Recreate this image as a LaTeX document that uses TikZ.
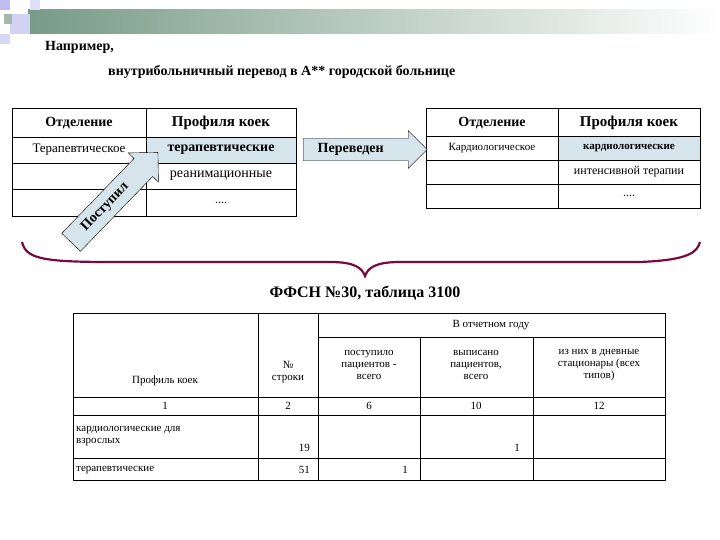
\documentclass[tikz,border=0pt]{standalone}
\usepackage{fontspec}
\setmainfont{Liberation Serif}
\usetikzlibrary{shapes.arrows}
\definecolor{cellblue}{RGB}{214,228,236}
\definecolor{brace}{RGB}{120,10,60}
\definecolor{barg}{RGB}{120,155,135}
\definecolor{lav}{RGB}{190,190,240}
\begin{document}
\begin{tikzpicture}[x=1pt,y=-1pt,
  cell/.style={draw,line width=0.8pt},
  txt/.style={font=\fontsize{12}{13}\selectfont,inner sep=0pt},
  hd/.style={font=\fontsize{14}{15}\selectfont\bfseries,inner sep=0pt},
  sm/.style={font=\fontsize{11}{12}\selectfont,inner sep=0pt,align=center}]
\useasboundingbox (0,0) rectangle (720,540);
% decoration
\shade[left color=barg,right color=white] (28,10) rectangle (720,34);
\fill[lav] (0,0) rectangle (10,10);
\fill[lav!70] (10,14) rectangle (30,34);
\fill[lav!60] (0,34) rectangle (10,44);
\fill[barg!70] (4,14) rectangle (12,24);
\fill[lav!50] (30,0) rectangle (40,10);
\node[anchor=west,font=\fontsize{14}{15}\selectfont\bfseries,inner sep=0pt] (t1) at (45,47) {Например,};
\node[anchor=west,font=\fontsize{14}{15}\selectfont\bfseries,inner sep=0pt] (t2) at (108,72) {внутрибольничный перевод в А** городской больнице};
% left table
\fill[cellblue] (146,137) rectangle (296,163);
\draw[cell] (12,108) rectangle (296,216);
\foreach \y in {137,163,189} \draw[cell] (12,\y) -- (296,\y);
\draw[cell] (146,108) -- (146,216);
\node[hd] (l1) at (79,123) {Отделение};
\node[hd,font=\fontsize{15}{16}\selectfont\bfseries] (l2) at (221,123) {Профиля коек};
\node[txt,font=\fontsize{13}{14}\selectfont] (l3) at (79,150) {Терапевтическое};
\node[txt,font=\fontsize{14}{15}\selectfont\bfseries] (l4) at (221,150) {терапевтические};
\node[txt,font=\fontsize{14}{15}\selectfont] (l5) at (221,176) {реанимационные};
\node[txt] (l6) at (221,203) {....};
% right table
\fill[cellblue] (558,136) rectangle (700,160);
\draw[cell] (426,108) rectangle (700,208);
\foreach \y in {136,160,184} \draw[cell] (426,\y) -- (700,\y);
\draw[cell] (558,108) -- (558,208);
\node[hd] (r1) at (492,123) {Отделение};
\node[hd,font=\fontsize{15}{16}\selectfont\bfseries] (r2) at (629,123) {Профиля коек};
\node[txt,font=\fontsize{11}{12}\selectfont] (r3) at (492,148) {Кардиологическое};
\node[txt,font=\fontsize{11}{12}\selectfont\bfseries] (r4) at (629,148) {кардиологические};
\node[txt,font=\fontsize{12}{13}\selectfont] (r5) at (629,172) {интенсивной терапии};
\node[txt] (r6) at (629,196) {....};
% arrow Переведен
\node[single arrow,draw,fill=cellblue,minimum height=124pt,minimum width=38pt,
  single arrow head extend=6pt,inner sep=2pt,anchor=west,
  text width=100pt,font=\fontsize{14}{15}\selectfont\bfseries] (pa) at (303,149.5) {\hspace*{8pt}Переведен};
% arrow Поступил
\node[single arrow,draw,fill=cellblue,minimum height=125pt,minimum width=42pt,
  single arrow head extend=7pt,inner sep=5pt,rotate=46,
  font=\fontsize{14}{15}\selectfont\bfseries] (pb) at (110,202) {Поступил\hspace*{14pt}};
% brace
\draw[brace,line width=2.2pt] (22,242) .. controls (26,258) and (40,262) .. (110,262)
  -- (330,262) .. controls (355,262) and (362,268) .. (365,276)
  .. controls (368,268) and (375,262) .. (400,262) -- (640,262)
  .. controls (690,260) and (697,252) .. (700,242);
\node[hd,font=\fontsize{16}{17}\selectfont\bfseries] (ff) at (365,293) {ФФСН №30, таблица 3100};
% bottom table
\draw (73,313) rectangle (665,480);
\draw (318,337) -- (665,337);
\foreach \y in {397,415,458} \draw (73,\y) -- (665,\y);
\draw (258,313) -- (258,480);
\draw (318,313) -- (318,480);
\draw (420,337) -- (420,480);
\draw (533,337) -- (533,480);
\node[sm] (b0) at (491,325) {В отчетном году};
\node[sm] (b1) at (165,381) {Профиль коек};
\node[sm] (b2) at (288,372) {№\\строки};
\node[sm] (b3) at (369,365) {поступило\\пациентов -\\всего};
\node[sm] (b4) at (476,365) {выписано\\пациентов,\\всего};
\node[sm] (b5) at (599,365) {из них в дневные\\стационары (всех\\типов)};
\node[sm] (n1) at (165,406) {1};
\node[sm] (n2) at (288,406) {2};
\node[sm] (n3) at (369,406) {6};
\node[sm] (n4) at (476,406) {10};
\node[sm] (n5) at (599,406) {12};
\node[sm,anchor=west,align=left] (c1) at (76,436) {кардиологические для\\взрослых};
\node[sm,anchor=east] (c2) at (310,448) {19};
\node[sm,anchor=east] (c3) at (520,448) {1};
\node[sm,anchor=west] (d1) at (76,470) {терапевтические};
\node[sm,anchor=east] (d2) at (310,470) {51};
\node[sm,anchor=east] (d3) at (408,470) {1};
\end{tikzpicture}
\end{document}
